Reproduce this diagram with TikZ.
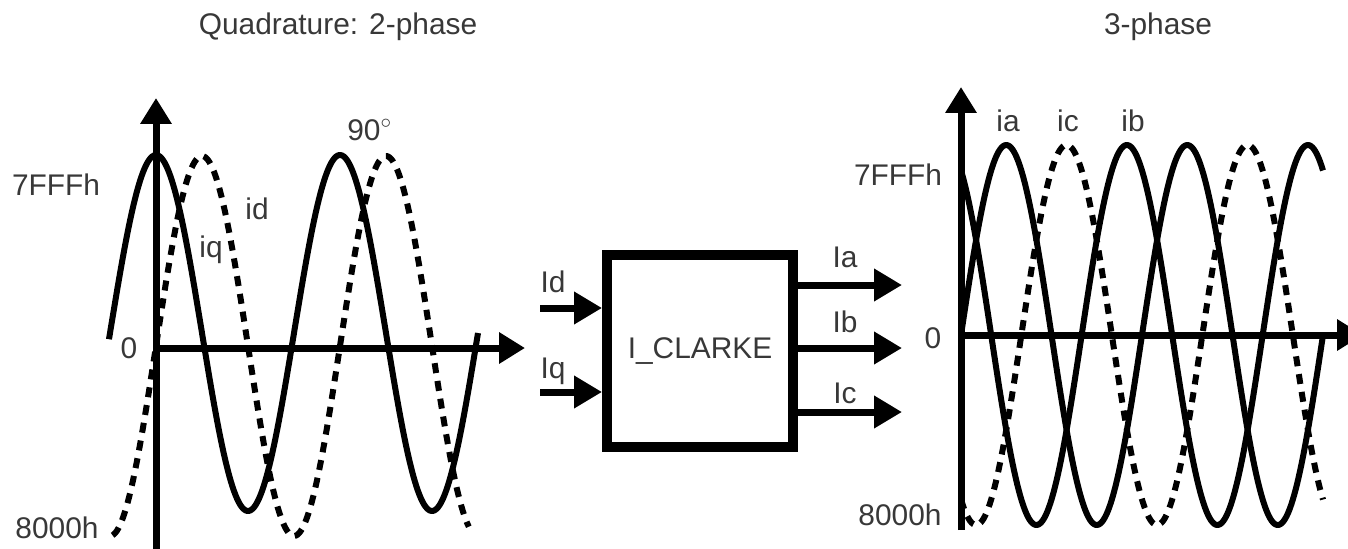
\documentclass[tikz,border=0pt]{standalone}
\usepackage{fontspec}
\setmainfont{Liberation Sans}
\usetikzlibrary{arrows.meta}
\begin{document}
\begin{tikzpicture}[x=0.02cm,y=-0.02cm,
  lbl/.style={text=black!78, font=\fontsize{17}{20}\selectfont, inner sep=0pt, anchor=base},
  axis/.style={line width=0.14cm, -{Triangle[length=0.52cm,width=0.6cm]}},
  wave/.style={line width=0.12cm, line join=round},
  dwave/.style={wave, dash pattern=on 0.2cm off 0.16cm},
  sig/.style={line width=0.14cm, -{Triangle[length=0.56cm,width=0.62cm]}},
  block/.style={draw, line width=0.2cm, minimum width=3.72cm, minimum height=3.84cm, inner sep=0pt,
    font=\fontsize{17}{20}\selectfont, text=black!78}]
\useasboundingbox (0,0) rectangle (1348,548);

% ---------- two-phase (quadrature) plot ----------
\node[lbl] (ttlq) at (338,34) {Quadrature: 2-phase};
\coordinate (lyb) at (156,552);
\coordinate (lyt) at (156,98);
\coordinate (lxl) at (156,348);
\coordinate (lxr) at (525,348);
\draw[axis] (lyb) -- (lyt);
\draw[axis] (lxl) -- (lxr);
\node[lbl] (lmax) at (56,195) {7FFFh};
\node[lbl] (lzero) at (129,358) {0};
\node[lbl] (lmin) at (57,538) {8000h};
% id (solid) and iq (dashed, 90 degrees behind)
\draw[wave] plot[domain=-92:630, samples=240] ({156+\x/360*184},{333-178*cos(\x)});
\draw[dwave] plot[domain=-85:612, samples=240] ({156+\x/360*184},{346-190*sin(\x)});
\node[lbl] (lid) at (257,219) {id};
\node[lbl] (liq) at (211,257) {iq};
\node[lbl, anchor=base west] (l90) at (347,140) {90$^{\circ}$};

% ---------- transform block ----------
\node[block] (clarke) at (700,351) {I\_CLARKE};
\coordinate (idin) at (540,308);
\coordinate (iqin) at (540,392);
\draw[sig] (idin) -- (idin -| clarke.west);
\draw[sig] (iqin) -- (iqin -| clarke.west);
\node[lbl] (tid) at (553,292) {Id};
\node[lbl] (tiq) at (553,378) {Iq};
\coordinate (iaout) at (902,285);
\coordinate (ibout) at (902,348);
\coordinate (icout) at (902,412);
\draw[sig] (iaout -| clarke.east) -- (iaout);
\draw[sig] (ibout -| clarke.east) -- (ibout);
\draw[sig] (icout -| clarke.east) -- (icout);
\node[lbl] (tia) at (845,267) {Ia};
\node[lbl] (tib) at (845,332) {Ib};
\node[lbl] (tic) at (845,403) {Ic};

% ---------- three-phase plot ----------
\node[lbl] (ttlt) at (1158,34) {3-phase};
\coordinate (ryb) at (961,530);
\coordinate (ryt) at (961,87);
\coordinate (rxl) at (961,335);
\coordinate (rxr) at (1363,335);
\draw[axis] (ryb) -- (ryt);
\draw[axis] (rxl) -- (rxr);
\node[lbl] (rmax) at (898,185) {7FFFh};
\node[lbl] (rzero) at (933,348) {0};
\node[lbl] (rmin) at (900,525) {8000h};
\draw[wave] plot[domain=0:720, samples=240] ({961+\x/360*181},{335-190*sin(\x)});
\draw[wave] plot[domain=0:720, samples=240] ({961+\x/360*181},{335-190*sin(\x+120)});
\draw[dwave] plot[domain=0:720, samples=240] ({961+\x/360*181},{335-190*sin(\x-120)});
\node[lbl] (ria) at (1008,131) {ia};
\node[lbl] (ric) at (1068,131) {ic};
\node[lbl] (rib) at (1133,131) {ib};
\end{tikzpicture}
\end{document}
